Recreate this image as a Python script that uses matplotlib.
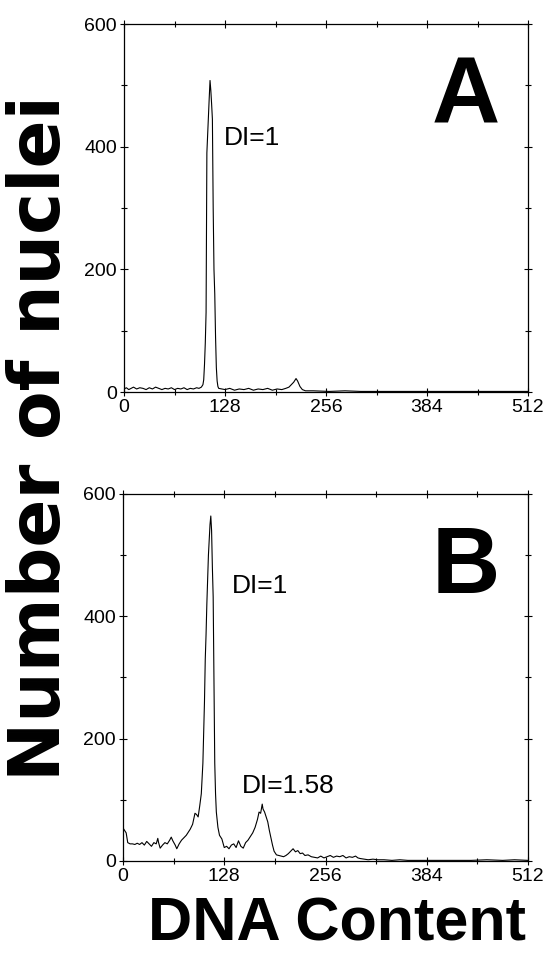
"""
Flow cytometry DNA histograms: diploid sample (A) and aneuploid sample (B)
"""

import matplotlib

matplotlib.use('Agg')
import matplotlib.pyplot as plt
from matplotlib.ticker import MultipleLocator

# panel A: channel / number of nuclei
channels_a = [0, 3, 6, 9, 12, 16, 20, 24, 28, 32, 36, 40, 44, 48, 52, 56, 60, 64,
              68, 72, 76, 80, 84, 88, 92, 95, 98, 100, 101, 102, 103, 104, 105, 106,
              107, 108, 109, 110, 111, 112, 113, 114, 115, 116, 117, 118, 119, 120,
              124, 128, 134, 140, 146, 152, 158, 164, 170, 176, 182, 188, 194, 200,
              205, 209, 212, 215, 218, 220, 223, 226, 230, 240, 260, 280, 300, 330,
              360, 400, 440, 480, 512]
counts_a = [5, 7, 4, 6, 8, 5, 7, 6, 4, 7, 5, 8, 6, 4, 6, 5, 7, 4,
            6, 5, 7, 4, 6, 5, 7, 6, 8, 12, 20, 45, 80, 130, 390, 420,
            450, 480, 508, 492, 470, 445, 300, 200, 160, 90, 40, 18, 9, 6,
            5, 4, 6, 3, 5, 4, 6, 3, 5, 4, 6, 3, 5, 4,
            6, 8, 12, 16, 22, 18, 9, 4, 2, 2, 1, 2, 1, 1,
            1, 1, 1, 1, 1]

# panel B: channel / number of nuclei
channels_b = [0, 2, 4, 6, 9, 12, 15, 18, 21, 24, 27, 30, 33, 36, 39, 42, 44, 45,
              47, 50, 53, 56, 59, 61, 63, 66, 68, 71, 74, 77, 80, 83, 85, 88, 91,
              93, 95, 97, 99, 101, 103, 104, 105, 106, 107, 108, 109, 110, 111,
              112, 113, 114, 115, 116, 117, 118, 120, 122, 125, 128, 131, 134, 137,
              140, 143, 146, 149, 152, 155, 158, 161, 164, 167, 170, 172, 174, 176,
              177, 179, 181, 183, 185, 187, 189, 191, 194, 197, 200, 203, 206, 209,
              212, 215, 218, 221, 224, 227, 230, 234, 238, 242, 246, 250, 254, 258,
              262, 266, 270, 274, 278, 282, 286, 290, 294, 297, 300, 305, 310, 316,
              322, 330, 340, 350, 360, 380, 400, 420, 440, 460, 480, 495, 512]
counts_b = [54, 50, 46, 30, 28, 28, 27, 29, 27, 30, 26, 32, 28, 24, 30, 28, 37, 30,
            21, 26, 30, 28, 34, 39, 33, 26, 20, 28, 34, 38, 42, 48, 52, 60, 78,
            76, 72, 90, 110, 160, 260, 330, 370, 420, 460, 500, 525, 550, 564,
            540, 480, 432, 300, 160, 110, 80, 55, 42, 36, 22, 24, 20, 26,
            28, 22, 33, 24, 21, 30, 34, 40, 46, 55, 68, 80, 78, 93,
            85, 80, 72, 64, 50, 38, 26, 16, 10, 9, 8, 7, 9, 12,
            16, 20, 15, 17, 12, 13, 9, 10, 7, 6, 5, 8, 5, 7,
            9, 6, 8, 7, 9, 5, 7, 6, 8, 5, 4, 3, 2, 3,
            2, 2, 1, 2, 1, 1, 1, 1, 1, 2, 1, 2, 1]

x_ticks = [0, 128, 256, 384, 512]
y_ticks = [0, 200, 400, 600]

panels = [
    dict(x=channels_a, y=counts_a, letter='A',
         notes=[('DI=1', 126, 403)]),
    dict(x=channels_b, y=counts_b, letter='B',
         notes=[('DI=1', 138, 438), ('DI=1.58', 150, 111)]),
]

plt.rcParams['font.family'] = ['Liberation Sans', 'DejaVu Sans']

fig = plt.figure(figsize=(5.43, 9.59), dpi=100)
axes = [
    fig.add_axes([0.2284, 0.5912, 0.7440, 0.3837]),
    fig.add_axes([0.2265, 0.1022, 0.7459, 0.3827]),
]

for ax, panel in zip(axes, panels):
    ax.plot(panel['x'], panel['y'], color='black', linewidth=0.8)
    ax.set_xlim(0, 512)
    ax.set_ylim(0, 600)
    ax.set_xticks(x_ticks)
    ax.set_yticks(y_ticks)
    ax.xaxis.set_minor_locator(MultipleLocator(64))
    ax.yaxis.set_minor_locator(MultipleLocator(100))
    ax.tick_params(which='both', direction='inout', top=True, right=True,
                   width=0.8, labelsize=14, pad=2)
    ax.tick_params(which='major', length=6)
    ax.tick_params(which='minor', length=5)
    for spine in ax.spines.values():
        spine.set_linewidth(0.9)
    for text, xv, yv in panel['notes']:
        ax.text(xv, yv, text, fontsize=19, ha='left', va='baseline')
    ax.text(0.93, 0.73, panel['letter'], transform=ax.transAxes,
            fontsize=68, fontweight='bold', ha='right', va='baseline')

fig.text(0.074, 0.543, 'Number of nuclei', rotation=90, ha='center', va='center',
         fontsize=51, fontweight='bold', family=['DejaVu Sans'])
fig.text(0.62, 0.035, 'DNA Content', ha='center', va='center',
         fontsize=44, fontweight='bold')

fig.savefig('out.png', dpi=100)
